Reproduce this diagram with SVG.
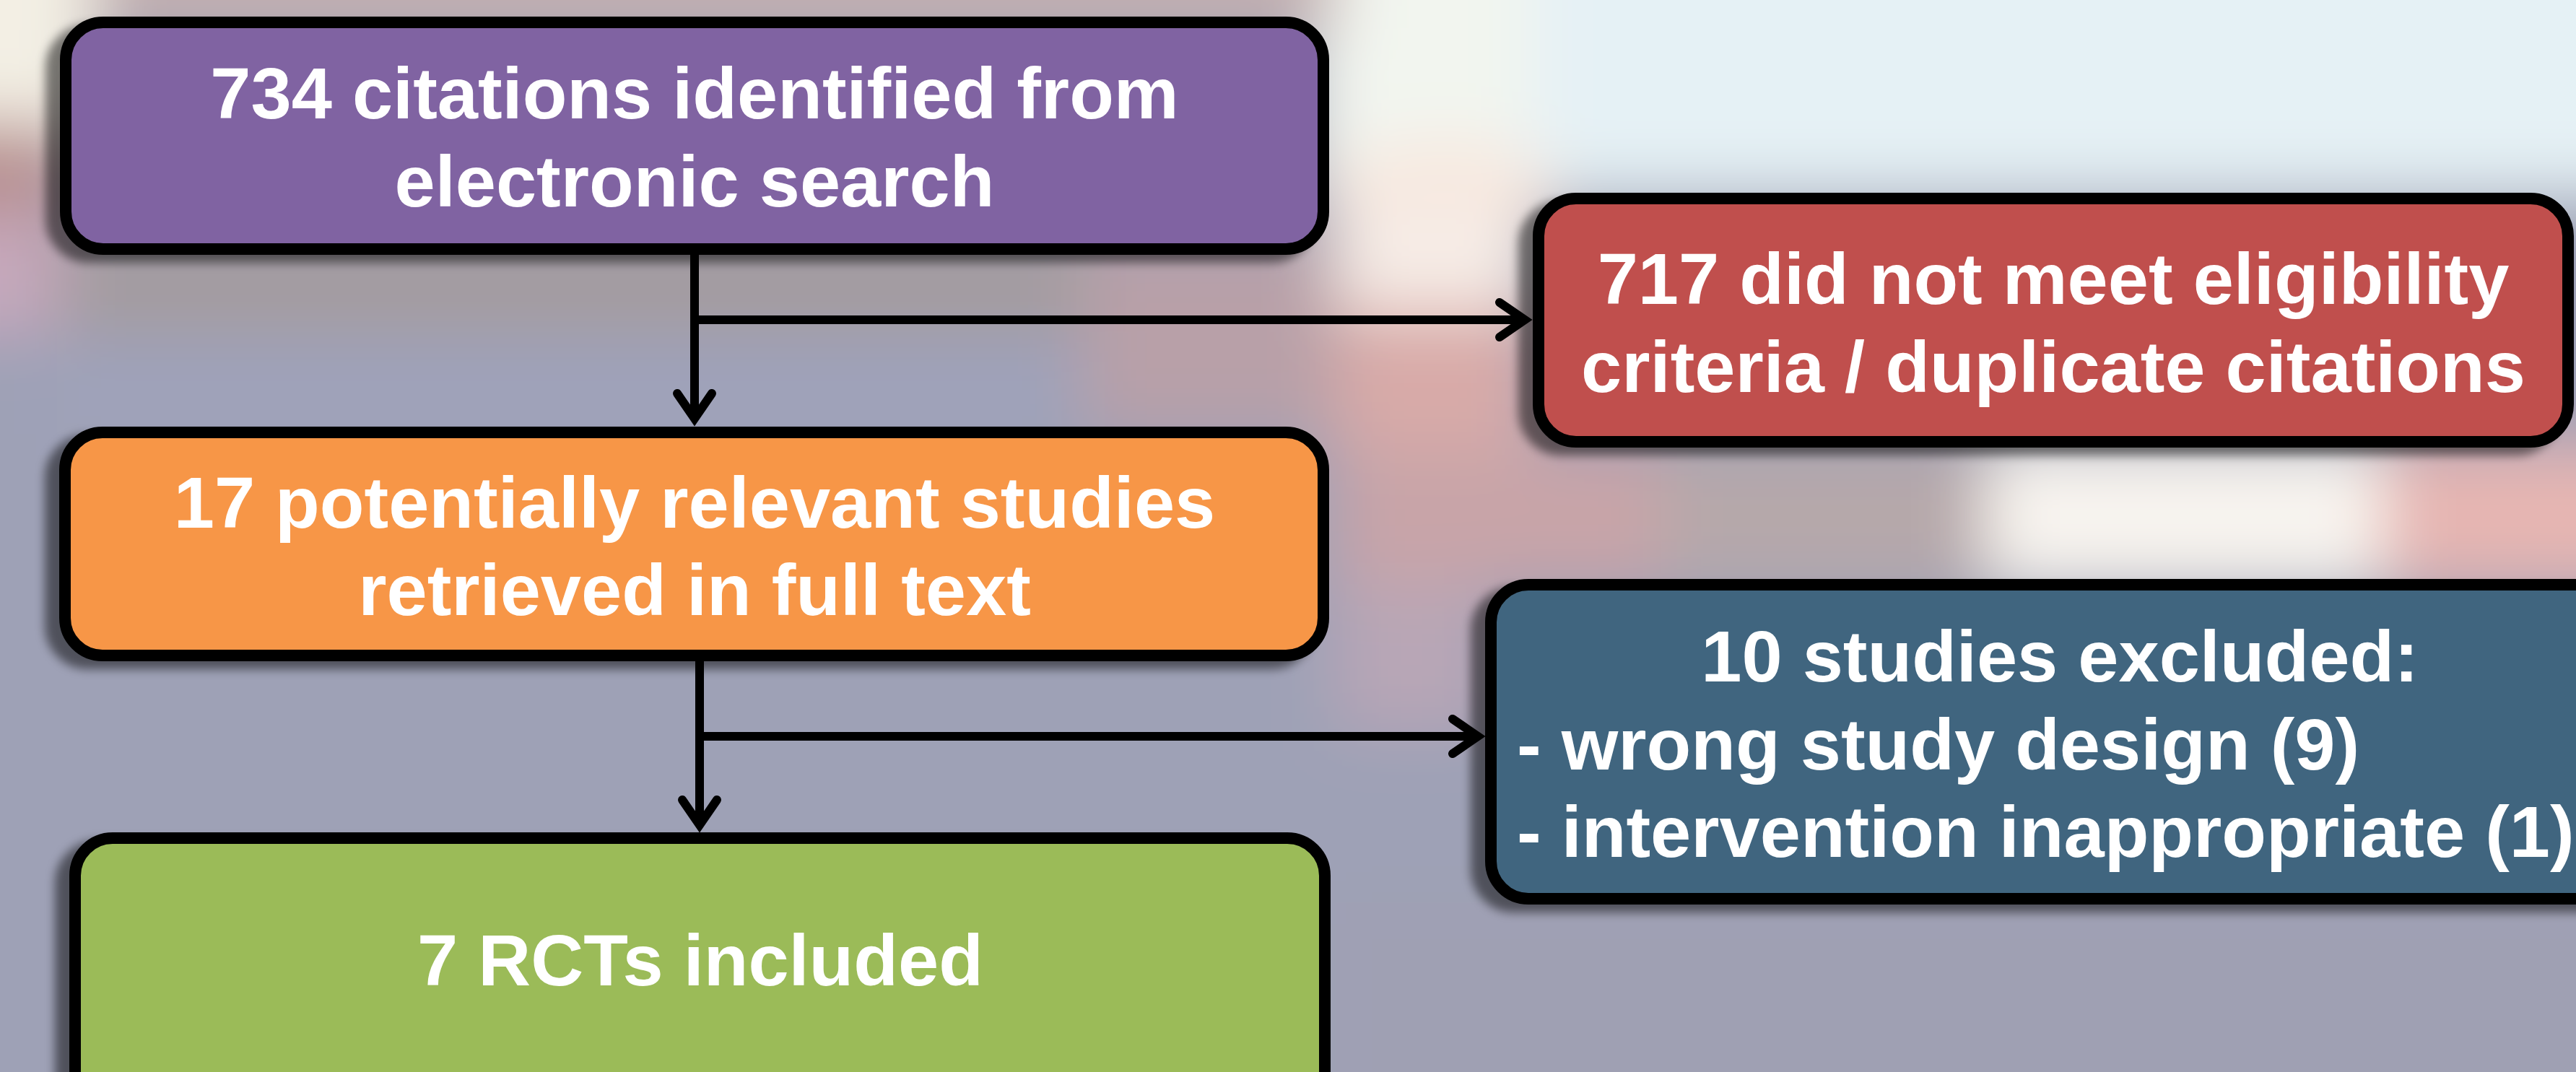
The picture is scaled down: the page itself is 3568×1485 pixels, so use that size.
<svg xmlns="http://www.w3.org/2000/svg" width="3568" height="1485" viewBox="0 0 3568 1485">
<defs>
<filter id="bgb" filterUnits="userSpaceOnUse" x="-300" y="-300" width="4200" height="2100"><feGaussianBlur stdDeviation="45"/></filter>
<filter id="shadow" x="-5%" y="-15%" width="110%" height="130%">
<feGaussianBlur in="SourceAlpha" stdDeviation="7"/>
<feOffset dx="-20" dy="11" result="o"/>
<feComponentTransfer><feFuncA type="linear" slope="0.5"/></feComponentTransfer>
<feMerge><feMergeNode/><feMergeNode in="SourceGraphic"/></feMerge>
</filter>
<marker id="arr" markerUnits="userSpaceOnUse" markerWidth="80" markerHeight="80" viewBox="-60 -40 80 80" refX="0" refY="0" orient="auto" overflow="visible">
<path d="M -35 -24 L 0 0 L -35 24" fill="none" stroke="#000" stroke-width="12" stroke-linecap="round" stroke-linejoin="miter"/>
</marker>
<style>
.box{stroke:#000;stroke-width:16}
.t{font-family:"Liberation Sans",Arial,Helvetica,sans-serif;font-weight:bold;font-size:101px;fill:#fff}
.c{text-anchor:middle}
.ln{fill:none;stroke:#000;stroke-width:12}
</style>
</defs>
<g id="background" filter="url(#bgb)">
<rect x="-200" y="-200" width="4000" height="1900" fill="#9ea1b6"/>
<rect x="1850" y="-200" width="1900" height="470" fill="#e5f1f5"/>
<rect x="1820" y="-200" width="300" height="470" fill="#f2f5ef"/>
<ellipse cx="2000" cy="262" rx="160" ry="60" fill="#f8e6dc"/>
<rect x="-200" y="-200" width="2050" height="240" fill="#c4b0b0"/>
<rect x="-200" y="-200" width="330" height="400" fill="#f3efe4"/>
<rect x="-200" y="170" width="290" height="150" fill="#b89090"/>
<rect x="-200" y="300" width="290" height="160" fill="#c6a8bc"/>
<rect x="80" y="330" width="1770" height="130" fill="#a49b9e"/>
<rect x="80" y="460" width="1770" height="140" fill="#9fa2ba"/>
<rect x="1500" y="330" width="360" height="270" fill="#b8a0a8"/>
<rect x="1850" y="280" width="270" height="160" fill="#f6ece6"/>
<rect x="1850" y="430" width="270" height="190" fill="#d8aaa8"/>
<rect x="1850" y="620" width="450" height="190" fill="#c8a4a8"/>
<rect x="2300" y="620" width="450" height="190" fill="#b6a8aa"/>
<rect x="2750" y="620" width="550" height="190" fill="#f8f4ef"/>
<rect x="3300" y="620" width="400" height="190" fill="#e6b6b2"/>
<rect x="1850" y="810" width="210" height="200" fill="#b8a6b6"/>
<rect x="1850" y="1250" width="1800" height="300" fill="#9fa0b3"/>
</g>
<g id="connectors">
<path class="ln" d="M 962 352 V 580" marker-end="url(#arr)"/>
<path class="ln" d="M 962 443 H 2112" marker-end="url(#arr)"/>
<path class="ln" d="M 969 916 V 1143" marker-end="url(#arr)"/>
<path class="ln" d="M 969 1020 H 2047" marker-end="url(#arr)"/>
</g>
<g id="n1">
<rect class="box" x="91" y="31" width="1742" height="314" rx="52" fill="#8064A2" filter="url(#shadow)"/>
<text class="t c" x="962" y="164">734 citations identified from</text>
<text class="t c" x="962" y="286">electronic search</text>
</g>
<g id="n2">
<rect class="box" x="2131" y="275" width="1426" height="337" rx="52" fill="#C0504D" filter="url(#shadow)"/>
<text class="t c" x="2844" y="421">717 did not meet eligibility</text>
<text class="t c" x="2844" y="543">criteria / duplicate citations</text>
</g>
<g id="n3">
<rect class="box" x="90" y="599" width="1743" height="309" rx="52" fill="#F79646" filter="url(#shadow)"/>
<text class="t c" x="962" y="731">17 potentially relevant studies</text>
<text class="t c" x="962" y="852">retrieved in full text</text>
</g>
<g id="n4">
<rect class="box" x="2065" y="810" width="1600" height="435" rx="52" fill="#41657F" filter="url(#shadow)"/>
<text class="t c" x="2853" y="944">10 studies excluded:</text>
<text class="t" x="2101" y="1066">- wrong study design (9)</text>
<text class="t" x="2101" y="1187">- intervention inappropriate (1)</text>
</g>
<g id="n5">
<rect class="box" x="104" y="1161" width="1731" height="400" rx="52" fill="#9BBB59" filter="url(#shadow)"/>
<text class="t c" x="970" y="1365">7 RCTs included</text>
</g>
</svg>
